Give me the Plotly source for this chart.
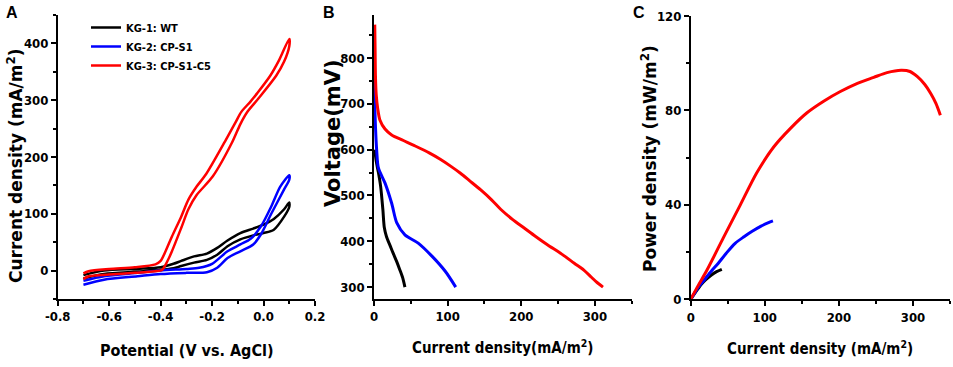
import plotly.graph_objects as go

# ---------------- Panel A: cyclic voltammetry (V vs AgCl, mA/m2) ----------------
kg1_fwd_v = [-0.70, -0.62, -0.49, -0.40, -0.35, -0.32, -0.27, -0.22, -0.18, -0.14, -0.09, -0.04, 0.00, 0.04, 0.08, 0.10]
kg1_fwd_i = [-14, -6, -2, 1, 4, 8, 14, 19, 28, 43, 55, 62, 66, 72, 95, 112]
kg1_rev_v = [0.10, 0.08, 0.04, 0.00, -0.04, -0.09, -0.14, -0.18, -0.22, -0.27, -0.32, -0.35, -0.40, -0.49, -0.62, -0.70]
kg1_rev_i = [120, 108, 91, 81, 74, 66, 53, 40, 30, 25, 17, 12, 6, 3, 0, -8]

kg2_fwd_v = [-0.70, -0.62, -0.49, -0.40, -0.30, -0.22, -0.18, -0.14, -0.09, -0.04, -0.01, 0.03, 0.08, 0.10]
kg2_fwd_i = [-25, -16, -10, -6, -4, -3, 5, 22, 34, 46, 64, 100, 143, 160]
kg2_rev_v = [0.10, 0.065, 0.03, -0.01, -0.05, -0.09, -0.14, -0.20, -0.25, -0.30, -0.40, -0.49, -0.62, -0.70]
kg2_rev_i = [168, 148, 113, 78, 56, 46, 34, 12, 5, 3, 0, -4, -10, -18]

kg3_fwd_v = [-0.70, -0.68, -0.60, -0.50, -0.42, -0.395, -0.37, -0.356, -0.32, -0.292, -0.26, -0.197, -0.123, -0.09, -0.062, -0.02, 0.049, 0.08, 0.10]
kg3_fwd_i = [-15, -10, -7, -4, -1, 1, 20, 34, 75, 108, 133, 166, 225, 258, 280, 303, 343, 368, 395]
kg3_rev_v = [0.10, 0.06, 0.026, -0.025, -0.05, -0.087, -0.11, -0.149, -0.223, -0.26, -0.292, -0.32, -0.356, -0.38, -0.40, -0.42, -0.50, -0.60, -0.68, -0.70]
kg3_rev_i = [408, 370, 343, 312, 298, 279, 260, 228, 170, 148, 125, 95, 60, 35, 17, 11, 6, 3, -1, -5]

cv_x_ticks = [-0.8, -0.6, -0.4, -0.2, 0.0, 0.2]
cv_x_ticktext = ["-0.8", "-0.6", "-0.4", "-0.2", "0.0", "0.2"]
cv_y_ticks = [0, 100, 200, 300, 400]

# ---------------- Panel B: polarization curves (mA/m2, mV) ----------------
kg1_pol_i = [1, 3, 6, 9, 12, 14, 17, 22, 26, 31, 35, 39, 42]
kg1_pol_v = [600, 575, 550, 520, 470, 430, 410, 390, 374, 355, 338, 320, 300]
kg2_pol_i = [0, 0.5, 1, 2, 3.6, 6, 15, 24, 31, 42, 60, 79, 97, 111]
kg2_pol_v = [818, 760, 700, 650, 600, 560, 527, 483, 440, 414, 396, 367, 334, 300]
kg3_pol_i = [1, 1.5, 2, 3, 5, 8, 15, 24, 40, 56, 75, 90, 105, 117, 130, 145, 160, 172, 188, 204, 220, 235, 255, 272, 285, 295, 303, 311]
kg3_pol_v = [873, 820, 760, 720, 690, 665, 645, 632, 620, 608, 593, 579, 563, 549, 532, 512, 490, 470, 448, 429, 410, 393, 372, 352, 337, 322, 310, 300]

# ---------------- Panel C: power density curves (mA/m2, mW/m2) ----------------
kg1_pow_i = [0, 5, 10, 15, 20, 28, 35, 42]
kg1_pow_p = [0, 2.3, 4.5, 6.6, 8.2, 10.3, 11.7, 12.7]
kg2_pow_i = [0, 5, 10, 19, 28, 37, 48, 60, 72, 83, 95, 105, 111]
kg2_pow_p = [0, 2.5, 5, 8.5, 12, 15.2, 19.5, 23.7, 26.5, 28.8, 31, 32.5, 33.2]
kg3_pow_i = [0, 10, 22, 44, 67, 89, 112, 135, 157, 180, 202, 225, 247, 265, 284, 296, 306, 316, 324, 331, 337]
kg3_pow_p = [0, 5.8, 12.4, 26, 40, 53.5, 64.5, 72.5, 79, 84, 88, 91.5, 94, 96, 97, 96.5, 94.3, 91, 87.2, 83, 78]

names = ["KG-1: WT", "KG-2: CP-S1", "KG-3: CP-S1-C5"]
colors = ["#000000", "#0000FF", "#FF0000"]

W, H = 953, 367
NARROW = "DejaVu Sans Condensed, Liberation Sans Narrow, Arial Narrow, sans-serif"
WIDE = "DejaVu Sans, Verdana, sans-serif"
ARIAL = "Liberation Sans, Arial, sans-serif"

fig = go.Figure()

cv_sets = [
    (kg1_fwd_v + kg1_rev_v, kg1_fwd_i + kg1_rev_i),
    (kg2_fwd_v + kg2_rev_v, kg2_fwd_i + kg2_rev_i),
    (kg3_fwd_v + kg3_rev_v, kg3_fwd_i + kg3_rev_i),
]
for (vx, iy), nm, c in zip(cv_sets, names, colors):
    fig.add_trace(go.Scatter(x=vx, y=iy, mode="lines", name=nm,
                             line=dict(color=c, width=2.5, shape="spline", smoothing=0.8),
                             xaxis="x", yaxis="y", showlegend=True))

for (xi, yv), c in zip([(kg1_pol_i, kg1_pol_v), (kg2_pol_i, kg2_pol_v), (kg3_pol_i, kg3_pol_v)], colors):
    fig.add_trace(go.Scatter(x=xi, y=yv, mode="lines", line=dict(color=c, width=3, shape="spline", smoothing=0.8),
                             xaxis="x2", yaxis="y2", showlegend=False))

for (xi, yp), c in zip([(kg1_pow_i, kg1_pow_p), (kg2_pow_i, kg2_pow_p), (kg3_pow_i, kg3_pow_p)], colors):
    fig.add_trace(go.Scatter(x=xi, y=yp, mode="lines", line=dict(color=c, width=3, shape="spline", smoothing=0.8),
                             xaxis="x3", yaxis="y3", showlegend=False))

def px(x):
    return x / W

def py(y):
    return 1 - y / H

tickfont = dict(family=NARROW, size=13, color="black", weight="bold")
common = dict(showgrid=False, zeroline=False, showline=True, linecolor="black", linewidth=1.5,
              ticks="outside", ticklen=5, tickwidth=1.5, tickcolor="black", tickfont=tickfont,
              mirror=False, automargin=False, fixedrange=True)
minor_style = dict(ticks="outside", ticklen=3, tickcolor="black", tickwidth=1.5)
ydom = [py(299), py(15)]

fig.update_layout(
    width=W, height=H,
    margin=dict(l=0, r=0, t=0, b=0),
    paper_bgcolor="white", plot_bgcolor="white",
    xaxis=dict(domain=[px(57.7), px(315)], range=[-0.8, 0.2], anchor="y",
               tickvals=cv_x_ticks, ticktext=cv_x_ticktext,
               minor=dict(dtick=0.1, tick0=0, **minor_style), **common),
    yaxis=dict(domain=ydom, range=[-50, 450], anchor="x", tickvals=cv_y_ticks,
               minor=dict(dtick=50, tick0=0, **minor_style), **common),
    xaxis2=dict(domain=[px(374), px(631.7)], range=[0, 350], anchor="y2", dtick=100, tick0=0,
                minor=dict(dtick=50, tick0=0, **minor_style), **common),
    yaxis2=dict(domain=ydom, range=[274, 894], anchor="x2", dtick=100, tick0=0,
                minor=dict(dtick=50, tick0=0, **minor_style), **common),
    xaxis3=dict(domain=[px(690.7), px(950)], range=[0, 350], anchor="y3", dtick=100, tick0=0,
                minor=dict(dtick=50, tick0=0, **minor_style), **common),
    yaxis3=dict(domain=[py(299.3), py(16)], range=[0, 120], anchor="x3", dtick=40, tick0=0,
                minor=dict(dtick=20, tick0=0, **minor_style), **common),
    legend=dict(x=px(86), y=py(13), xanchor="left", yanchor="top", bgcolor="rgba(0,0,0,0)",
                font=dict(family=NARROW, size=11, color="black", weight="bold"),
                tracegroupgap=0, itemwidth=30),
    showlegend=True,
)

anns = [
    dict(text="A", x=px(12), y=py(13), font=dict(family=ARIAL, size=16, weight="bold")),
    dict(text="B", x=px(329), y=py(13), font=dict(family=ARIAL, size=16, weight="bold")),
    dict(text="C", x=px(639), y=py(13), font=dict(family=ARIAL, size=16, weight="bold")),
    dict(text="Current density (mA/m<sup>2</sup>)", x=px(15), y=py(166), textangle=-90,
         font=dict(family=WIDE, size=17, weight="bold")),
    dict(text="Voltage(mV)", x=px(333), y=py(133), textangle=-90,
         font=dict(family=WIDE, size=21, weight="bold")),
    dict(text="Power density (mW/m<sup>2</sup>)", x=px(649), y=py(159), textangle=-90,
         font=dict(family=WIDE, size=17, weight="bold")),
    dict(text="Potential (V vs. AgCl)", x=px(186), y=py(350),
         font=dict(family=NARROW, size=16, weight="bold")),
    dict(text="Current density(mA/m<sup>2</sup>)", x=px(503), y=py(347),
         font=dict(family=NARROW, size=15, weight="bold")),
    dict(text="Current density (mA/m<sup>2</sup>)", x=px(820), y=py(348),
         font=dict(family=NARROW, size=15, weight="bold")),
]
for a in anns:
    a.setdefault("xref", "paper")
    a.setdefault("yref", "paper")
    a["showarrow"] = False
    a["xanchor"] = "center"
    a["yanchor"] = "middle"
    a["font"]["color"] = "black"
    fig.add_annotation(**a)

fig.write_html("out.html", config={"displayModeBar": False},
               post_script="document.body.style.margin='0px';document.body.style.padding='0px';"
                           "document.documentElement.style.overflow='hidden';")
